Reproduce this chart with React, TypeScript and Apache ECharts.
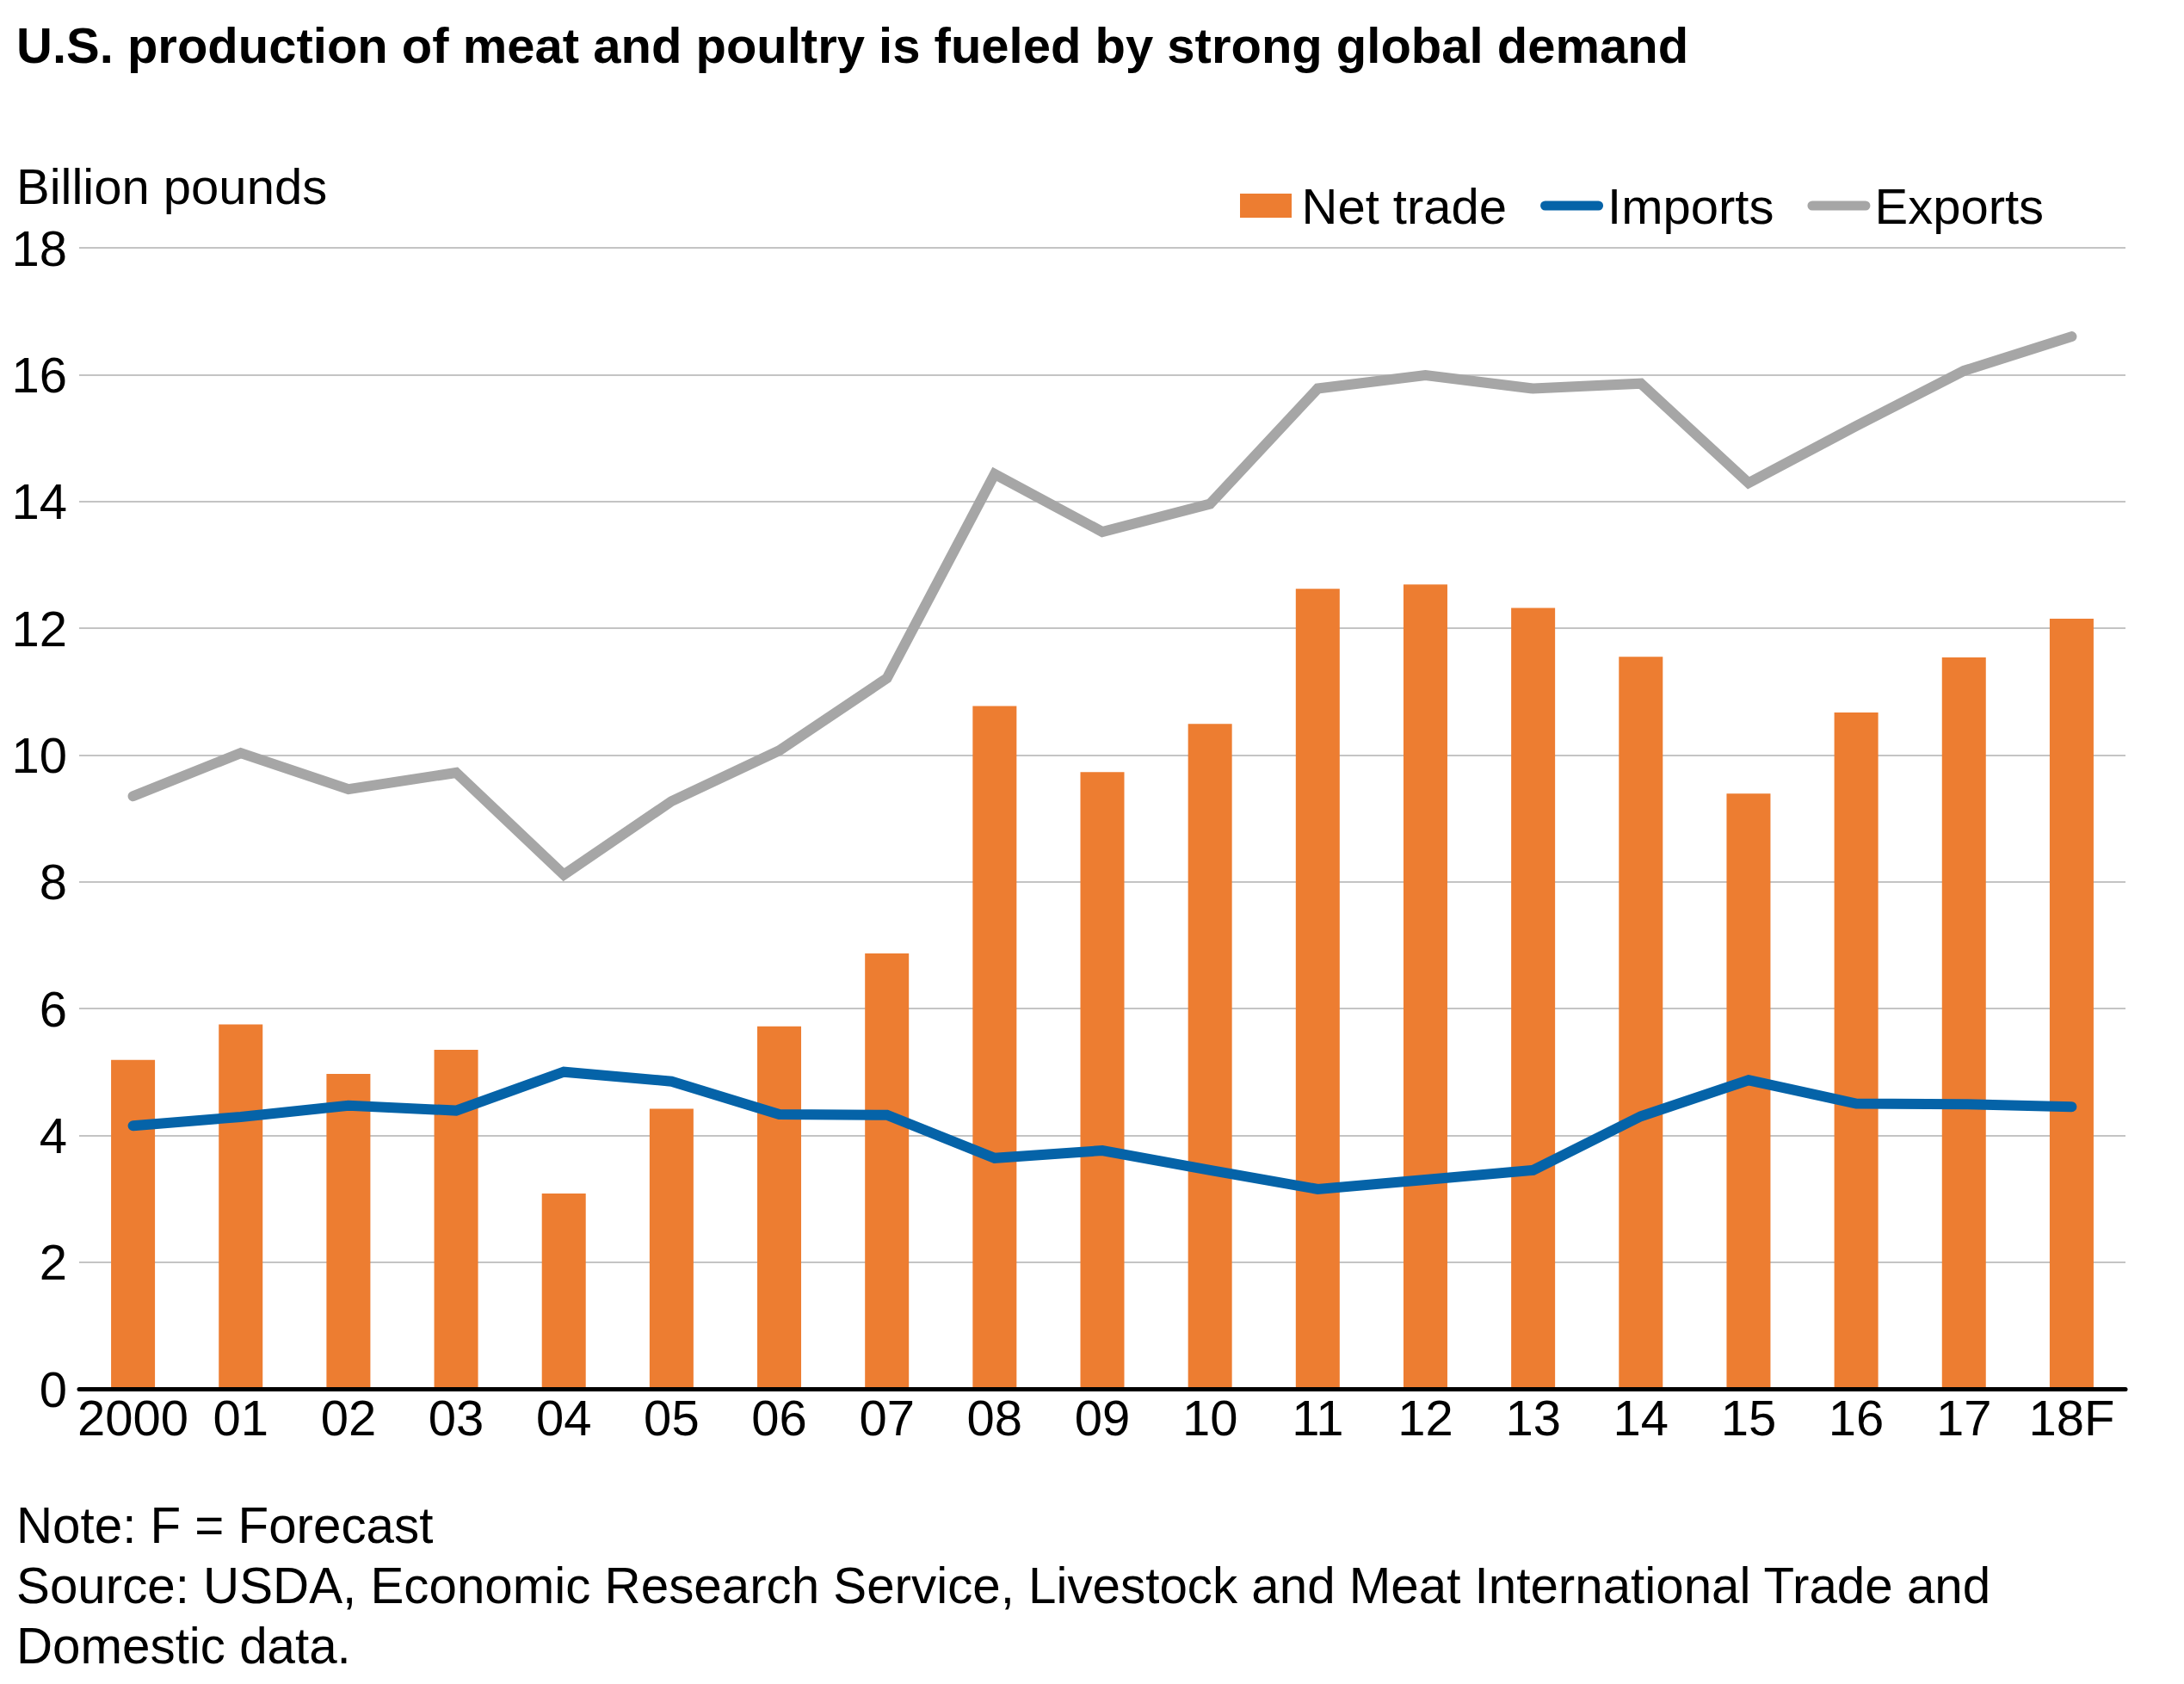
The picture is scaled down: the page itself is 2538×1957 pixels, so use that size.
import React, { useEffect, useRef } from "react";
import * as echarts from "echarts";

const categories = ["2000", "01", "02", "03", "04", "05", "06", "07", "08", "09", "10", "11", "12", "13", "14", "15", "16", "17", "18F"];
const netTrade = [5.19, 5.75, 4.97, 5.35, 3.08, 4.42, 5.72, 6.87, 10.77, 9.73, 10.49, 12.62, 12.69, 12.32, 11.55, 9.39, 10.67, 11.54, 12.15];
const importsData = [4.15, 4.29, 4.47, 4.39, 5.0, 4.85, 4.33, 4.32, 3.64, 3.76, 3.45, 3.15, 3.3, 3.45, 4.3, 4.87, 4.5, 4.49, 4.45];
const exportsData = [9.35, 10.03, 9.46, 9.72, 8.11, 9.27, 10.07, 11.21, 14.43, 13.52, 13.96, 15.78, 15.99, 15.78, 15.86, 14.29, 15.19, 16.06, 16.6];
const yTicks = { min: 0, max: 18, interval: 2 };

const TITLE = "U.S. production of meat and poultry is fueled by strong global demand";
const Y_NAME = "Billion pounds";
const NOTES = [
  "Note: F = Forecast",
  "Source: USDA, Economic Research Service, Livestock and Meat International Trade and",
  "Domestic data.",
];

const FONT = "'Liberation Sans', Arial, Helvetica, sans-serif";
const ORANGE = "#ed7d31";
const BLUE = "#0563a8";
const GRAY = "#a6a6a6";

export default function App() {
  const ref = useRef<HTMLDivElement>(null);
  useEffect(() => {
    if (!ref.current) return;
    const chart = echarts.init(ref.current, null, { renderer: "svg" });
    const textBase = { fontFamily: FONT, fill: "#000" };
    chart.setOption({
      animation: false,
      backgroundColor: "#fff",
      textStyle: { fontFamily: FONT },
      grid: { left: 92, right: 68, top: 288, bottom: 343, containLabel: false },
      legend: {
        left: 1441,
        top: 210,
        padding: 0,
        itemGap: 39,
        itemWidth: 73,
        itemHeight: 28,
        textStyle: { fontSize: 58, color: "#000", fontFamily: FONT },
        data: [
          { name: "Net trade", icon: "path://M0,0H60V28H0Z", itemStyle: { color: ORANGE, borderWidth: 0 } },
          {
            name: "Imports",
            icon: "path://M5.5,0H67.5A5.5,5.5,0,0,1,67.5,11H5.5A5.5,5.5,0,0,1,5.5,0Z",
            itemStyle: { color: BLUE, borderWidth: 0 },
          },
          {
            name: "Exports",
            icon: "path://M5.5,0H67.5A5.5,5.5,0,0,1,67.5,11H5.5A5.5,5.5,0,0,1,5.5,0Z",
            itemStyle: { color: GRAY, borderWidth: 0 },
          },
        ],
      },
      xAxis: {
        type: "category",
        data: categories,
        boundaryGap: true,
        axisLine: { show: true, lineStyle: { color: "#000", width: 5 } },
        axisTick: { show: false },
        axisLabel: { fontSize: 58, color: "#000", margin: 4, fontFamily: FONT, interval: 0 },
        splitLine: { show: false },
        z: 10,
      },
      yAxis: {
        type: "value",
        min: yTicks.min,
        max: yTicks.max,
        interval: yTicks.interval,
        axisLine: { show: false },
        axisTick: { show: false },
        axisLabel: { fontSize: 58, color: "#000", margin: 14, fontFamily: FONT, padding: [0, 0, 11, 0] },
        splitLine: { show: true, lineStyle: { color: "#b0b0b0", width: 1.5 } },
      },
      graphic: [
        {
          type: "text",
          x: 19,
          y: 52.5,
          style: { ...textBase, text: TITLE, fontSize: 58, fontWeight: "bold", verticalAlign: "middle" },
        },
        {
          type: "text",
          x: 19,
          y: 216,
          style: { ...textBase, text: Y_NAME, fontSize: 58, verticalAlign: "middle" },
        },
        ...NOTES.map((t, i) => ({
          type: "text",
          x: 19,
          y: 1772 + i * 70,
          style: { ...textBase, text: t, fontSize: 58.3, verticalAlign: "middle" },
        })),
      ],
      series: [
        {
          name: "Net trade",
          type: "bar",
          data: netTrade,
          barWidth: 51,
          itemStyle: { color: ORANGE },
          z: 1,
        },
        {
          name: "Imports",
          type: "line",
          data: importsData,
          symbol: "none",
          showSymbol: false,
          color: BLUE,
          lineStyle: { color: BLUE, width: 12, cap: "round", join: "miter" },
          z: 3,
        },
        {
          name: "Exports",
          type: "line",
          data: exportsData,
          symbol: "none",
          showSymbol: false,
          color: GRAY,
          lineStyle: { color: GRAY, width: 12, cap: "round", join: "miter" },
          z: 3,
        },
      ],
    });
    return () => chart.dispose();
  }, []);
  return (
    <div
      ref={ref}
      style={{ position: "fixed", left: 0, top: 0, width: 2538, height: 1957, background: "#fff" }}
    />
  );
}
